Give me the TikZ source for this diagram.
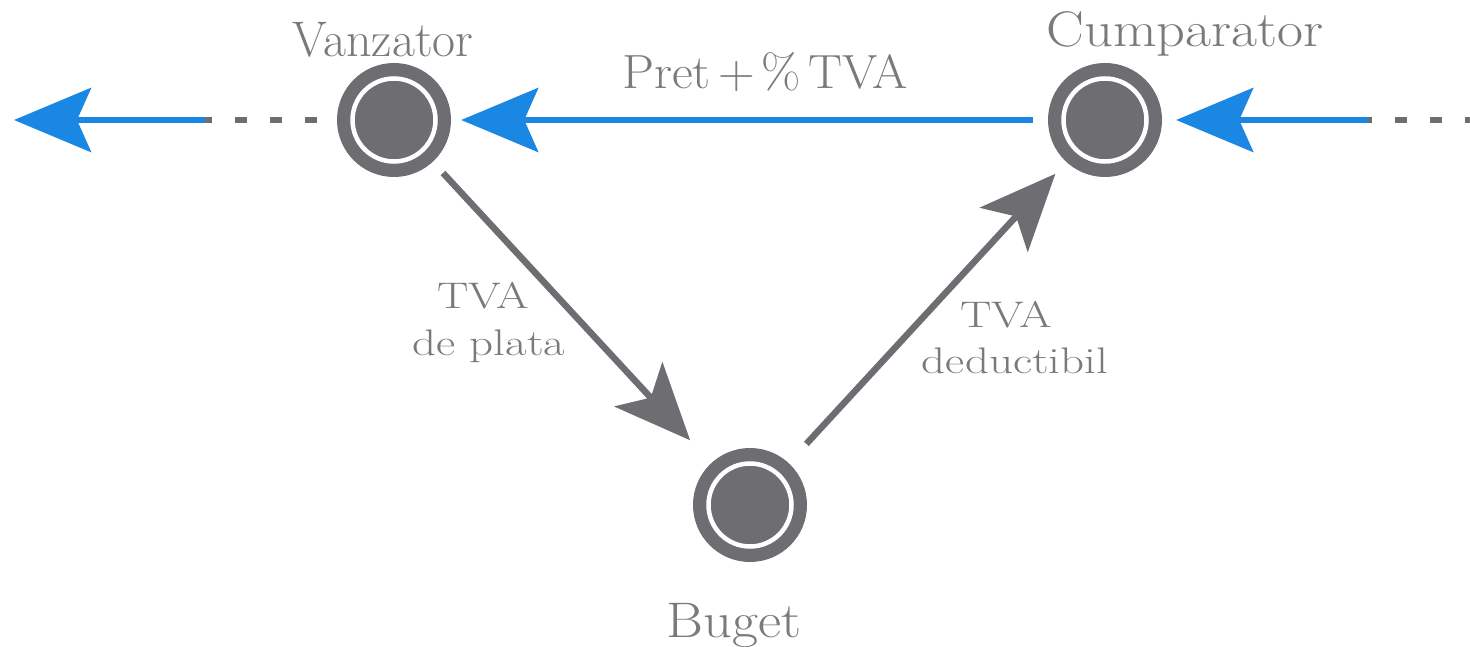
\documentclass[tikz,border=0pt]{standalone}
\usepackage{fontspec}
\newfontfamily\lblfont[FakeStretch=1.27]{Latin Modern Roman}
\newfontfamily\widefont[FakeStretch=1.13]{Latin Modern Roman}
\newfontfamily\midfont[FakeStretch=1.06]{Latin Modern Roman}
\usetikzlibrary{arrows.meta}
\definecolor{cgray}{RGB}{110,110,114}
\definecolor{tgray}{RGB}{122,122,126}
\definecolor{cblue}{RGB}{26,135,226}
\begin{document}
\begin{tikzpicture}[x=1pt,y=-1pt,
  party/.style={circle, fill=cgray, minimum size=114pt, inner sep=0pt,
    path picture={\draw[white, line width=4.5pt] (path picture bounding box.center) circle[radius=41.5pt];}},
  bigtext/.style={text=tgray, inner sep=0pt, anchor=base, font=\fontsize{50}{60}\selectfont},
  widetext/.style={text=tgray, inner sep=0pt, anchor=base, font=\widefont\fontsize{50}{60}\selectfont},
  midtext/.style={text=tgray, inner sep=0pt, anchor=base, font=\midfont\fontsize{48}{58}\selectfont},
  smalltext/.style={text=tgray, inner sep=0pt, anchor=base, font=\lblfont\fontsize{37}{44}\selectfont},
  blueline/.style={draw=cblue, line width=6pt},
  grayline/.style={draw=cgray, line width=6.5pt},
  dashline/.style={draw=cgray, line width=6pt, dash pattern=on 12pt off 23pt},
  bluetip/.style={-{Stealth[length=77pt,width=64pt,inset=14pt]}},
  graytip/.style={-{Stealth[length=76pt,width=65pt,inset=18pt]}}
]
\path[fill=white] (0,0) rectangle (1470,647);
\useasboundingbox (0,0) rectangle (1470,647);

% parties
\node[party] (V) at (394,120) {};
\node[party] (C) at (1105,120) {};
\node[party] (B) at (750,505) {};

% titles
\node[bigtext] (tV) at (383,57) {Vanzator};
\node[widetext] (tC) at (1185,47) {Cumparator};
\node[widetext] (tB) at (734,637) {Buget};
\node[midtext] (tP) at (765,89) {Pret\kern0.15em+\kern0.15em\%\kern0.15em TVA};

% edge labels
\node[smalltext] (l1a) at (483,308) {TVA};
\node[smalltext] (l1b) at (489,355) {de plata};
\node[smalltext] (l2a) at (1006,327) {TVA};
\node[smalltext] (l2b) at (1015,373) {deductibil};

% main flow
\draw[blueline, bluetip, shorten <=15pt, shorten >=10pt] (C) -- (V);

% left continuation
\coordinate (L1) at (205,120);
\coordinate (L2) at (14,120);
\draw[dashline, shorten <=20pt] (V.west) -- (L1);
\draw[blueline, bluetip] (L1) -- (L2);

% right continuation
\coordinate (R0) at (1470,120);
\coordinate (R1) at (1368,120);
\draw[dashline, dash phase=8pt] (R1) -- (R0);
\draw[blueline, bluetip, shorten >=14pt] (R1) -- (C.east);

% tax flows
\draw[grayline, graytip, shorten <=15pt, shorten >=31pt] (V) -- (B);
\draw[grayline, graytip, shorten <=26pt, shorten >=16pt] (B) -- (C);
\end{tikzpicture}
\end{document}
